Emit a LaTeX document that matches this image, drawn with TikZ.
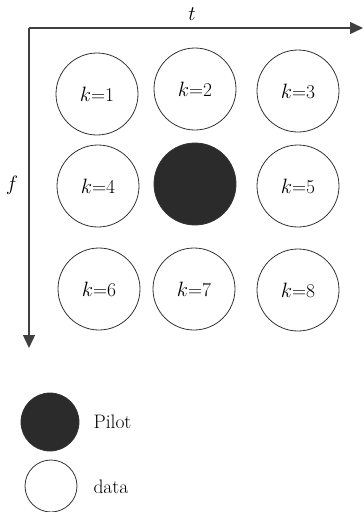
\documentclass[tikz,border=0pt]{standalone}
\usetikzlibrary{arrows.meta}
\begin{document}
\begin{tikzpicture}[x=1pt,y=-1pt,
  cell/.style={circle,draw=black!80,line width=0.8pt,minimum size=82pt,inner sep=0pt,font=\fontsize{19.5}{22}\selectfont},
  pilotcell/.style={cell,fill=black!83},
  axis/.style={line width=1.4pt,draw=black!75,-{Triangle[width=12pt,length=13pt]}},
  lbl/.style={font=\fontsize{19.5}{22}\selectfont}]
\useasboundingbox (0,0) rectangle (364,512);
% axes
\coordinate (o) at (29,28);
\coordinate (tend) at (363,28);
\coordinate (fend) at (29,348);
\draw[axis] (o) -- (tend);
\draw[axis] (o) -- (fend);
\node[lbl] (tl) at (192,14) {$t$};
\node[lbl] (fl) at (12,185) {$f$};
% resource grid
\node[cell] (k1) at (97,94) {$k$=1};
\node[cell] (k2) at (195,89) {$k$=2};
\node[cell] (k3) at (298,91) {$k$=3};
\node[cell] (k4) at (98,186) {$k$=4};
\node[pilotcell] (p) at (195,184) {};
\node[cell] (k5) at (298,186) {$k$=5};
\node[cell] (k6) at (99,289) {$k$=6};
\node[cell] (k7) at (194,289) {$k$=7};
\node[cell] (k8) at (298,290) {$k$=8};
% legend
\node[pilotcell,minimum size=58pt] (lp) at (50,422) {};
\node[lbl,anchor=west] (lpt) at (90,422) {Pilot};
\node[cell,minimum size=52pt] (ld) at (51,486) {};
\node[lbl,anchor=west] (ldt) at (90,487) {data};
\end{tikzpicture}
\end{document}
